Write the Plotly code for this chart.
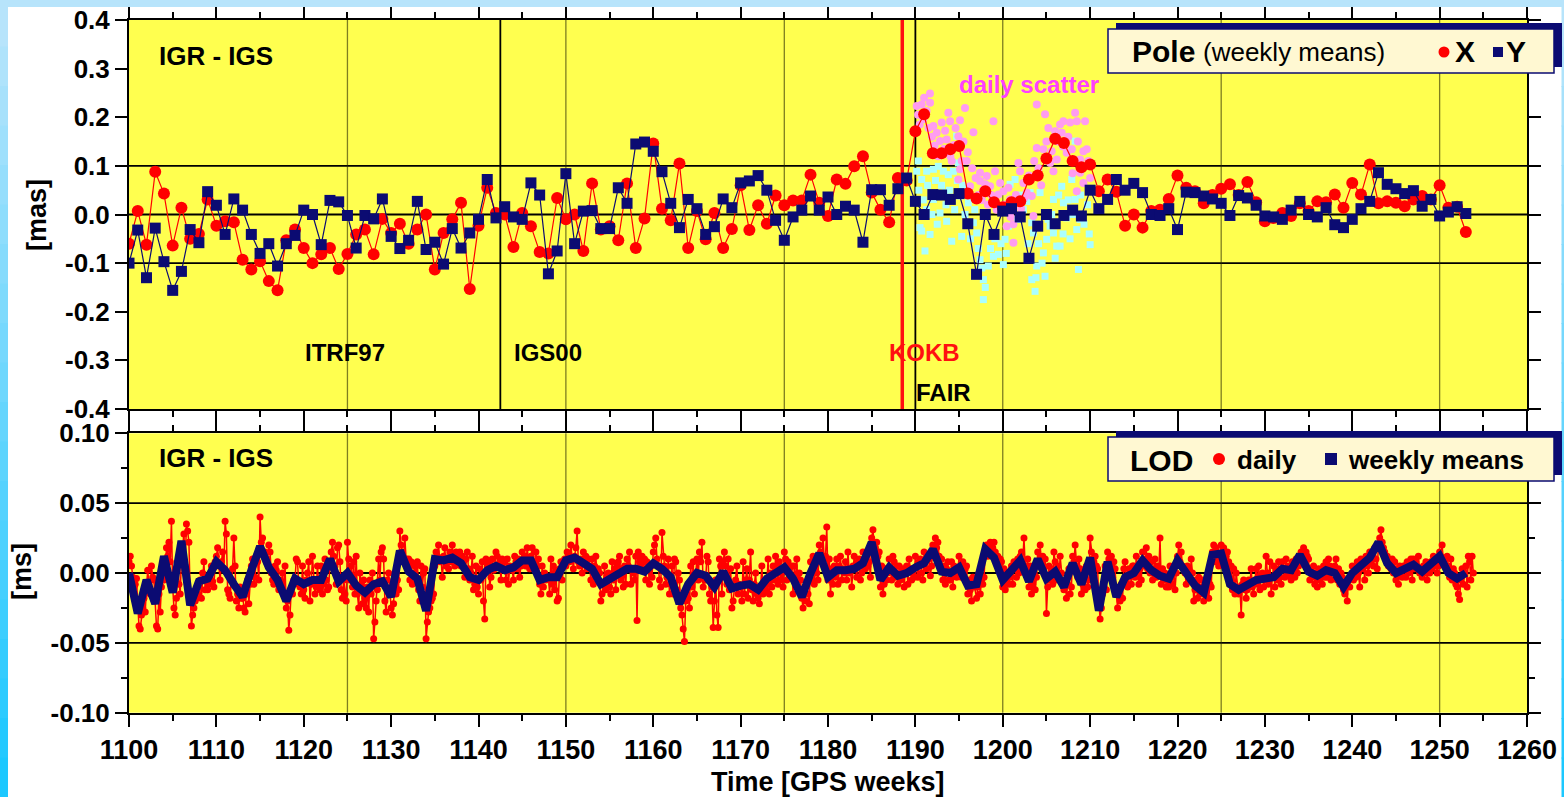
import plotly.graph_objects as go

W, H = 1564, 797

# ---------------- data ----------------
weeks = list(range(1100, 1254))

pole_x = [
    -0.060, 0.007, -0.062, 0.088, 0.043, -0.064, 0.014, -0.050, -0.040, 0.031,
    -0.023, -0.014, -0.016, -0.093, -0.113, -0.096, -0.137, -0.156, -0.053, -0.031,
    -0.069, -0.100, -0.082, -0.069, -0.112, -0.081, -0.041, -0.031, -0.082, -0.009,
    -0.038, -0.019, -0.060, -0.031, 0.000, -0.113, -0.038, -0.010, 0.024, -0.153,
    -0.023, 0.055, 0.003, 0.000, -0.067, 0.003, -0.024, -0.077, -0.080, 0.034,
    -0.010, 0.000, -0.075, 0.064, -0.031, -0.024, -0.053, 0.064, -0.069, -0.008,
    0.146, 0.012, -0.012, 0.105, -0.069, 0.007, -0.051, 0.003, -0.069, -0.030,
    0.060, -0.032, 0.019, -0.019, 0.039, 0.019, 0.029, 0.029, 0.082, 0.024,
    -0.003, 0.072, 0.063, 0.099, 0.120, 0.045, 0.010, -0.016, 0.075, 0.070,
    0.171, 0.206, 0.126, 0.126, 0.134, 0.141, 0.043, 0.033, 0.048, 0.025,
    0.015, 0.025, 0.027, 0.072, 0.080, 0.115, 0.156, 0.147, 0.110, 0.097,
    0.103, 0.048, 0.072, 0.047, -0.023, 0.000, -0.027, 0.007, 0.010, 0.032,
    0.080, 0.055, 0.048, 0.023, 0.040, 0.053, 0.062, 0.040, 0.067, 0.025,
    -0.014, -0.007, 0.003, -0.003, 0.023, 0.007, 0.027, 0.025, 0.041, 0.014,
    0.065, 0.041, 0.103, 0.023, 0.027, 0.024, 0.017, 0.031, 0.038, 0.031,
    0.060, 0.014, 0.016, -0.036,
]

pole_y = [
    -0.100, -0.032, -0.130, -0.028, -0.097, -0.156, -0.117, -0.031, -0.058, 0.047,
    0.019, -0.041, 0.032, 0.009, -0.041, -0.080, -0.060, -0.106, -0.060, -0.043,
    0.009, 0.000, -0.062, 0.029, 0.026, -0.002, -0.069, -0.002, -0.009, 0.032,
    -0.045, -0.070, -0.053, 0.027, -0.072, -0.057, -0.102, -0.029, -0.069, -0.038,
    -0.010, 0.072, -0.007, 0.016, -0.005, -0.010, 0.065, 0.040, -0.122, -0.075,
    0.084, -0.060, 0.007, 0.008, -0.029, -0.029, 0.055, 0.023, 0.145, 0.149,
    0.130, 0.088, 0.023, -0.027, 0.031, 0.012, -0.041, -0.025, 0.032, 0.014,
    0.065, 0.069, 0.080, 0.050, -0.012, -0.053, -0.005, 0.009, 0.038, 0.009,
    0.036, 0.000, 0.017, 0.009, -0.057, 0.051, 0.051, 0.019, 0.053, 0.075,
    0.027, 0.000, 0.041, 0.040, 0.031, 0.043, -0.019, -0.123, 0.000, -0.041,
    0.007, 0.012, -0.005, -0.090, -0.024, 0.000, -0.019, -0.002, 0.009, -0.003,
    0.050, 0.012, 0.031, 0.072, 0.050, 0.064, 0.045, 0.000, -0.002, 0.012,
    -0.031, 0.046, 0.045, 0.038, 0.032, 0.023, -0.002, 0.039, 0.034, 0.019,
    -0.003, -0.005, -0.010, 0.009, 0.027, 0.000, -0.005, 0.014, -0.021, -0.027,
    -0.010, 0.012, 0.027, 0.086, 0.062, 0.053, 0.043, 0.049, 0.017, 0.031,
    -0.003, 0.005, 0.016, 0.002,
]

# daily scatter (pink = X, cyan = Y)
scatter_x_weeks = [
    1190.15, 1190.72, 1190.91, 1191.29, 1191.68, 1191.67, 1192.06, 1192.44, 1192.82, 1193.01,
    1193.58, 1193.77, 1193.97, 1194.16, 1194.92, 1194.92, 1195.11, 1195.11, 1195.30, 1195.68,
    1195.87, 1196.26, 1196.64, 1197.40, 1197.40, 1197.78, 1198.16, 1198.55, 1198.93, 1199.12,
    1199.50, 1200.07, 1200.45, 1200.64, 1200.84, 1201.22, 1201.22, 1201.79, 1201.98, 1202.36,
    1202.74, 1203.32, 1203.51, 1203.89, 1203.89, 1204.65, 1204.84, 1205.22, 1205.42, 1205.80,
    1205.99, 1206.18, 1206.56, 1206.75, 1206.94, 1207.32, 1207.71, 1207.90, 1208.09, 1208.28,
    1208.47, 1208.47, 1208.85, 1208.85, 1209.23, 1209.23, 1209.42, 1209.61,
    1190.30, 1190.50, 1191.00, 1191.50, 1191.90, 1192.20, 1192.60, 1193.30, 1193.40, 1194.00,
    1194.40, 1194.60, 1195.50, 1196.00, 1196.50, 1196.90, 1197.20, 1197.60, 1198.00, 1198.30,
    1198.70, 1199.30, 1199.70, 1200.20, 1200.90, 1201.50, 1202.10, 1202.50, 1203.00, 1203.60,
    1204.10, 1204.40, 1205.00, 1205.60, 1206.30, 1206.90, 1207.50, 1208.00, 1208.60, 1209.00,
    1209.80, 1210.00,
]
scatter_x_vals = [
    0.223, 0.226, 0.196, 0.213, 0.230, 0.249, 0.182, 0.168, 0.151, 0.189,
    0.154, 0.209, 0.192, 0.110, 0.161, 0.072, 0.194, 0.093, 0.110, 0.219,
    0.110, 0.058, 0.169, 0.086, 0.069, 0.051, 0.079, 0.058, 0.192, 0.089,
    0.041, 0.048, -0.024, 0.055, 0.031, -0.020, -0.058, 0.106, 0.089, 0.065,
    0.045, 0.038, -0.003, 0.226, 0.137, 0.134, 0.206, 0.178, 0.106, 0.089,
    0.171, 0.113, 0.185, 0.168, 0.192, 0.127, 0.189, 0.134, 0.113, 0.209,
    0.192, 0.048, 0.113, 0.086, 0.130, 0.065, 0.192, 0.134,
    0.205, 0.185, 0.240, 0.178, 0.160, 0.142, 0.120, 0.135, 0.172, 0.120,
    0.143, 0.178, 0.150, 0.128, 0.095, 0.075, 0.040, 0.030, 0.062, 0.020,
    0.040, 0.010, 0.065, 0.020, -0.005, 0.040, 0.012, 0.035, 0.080, 0.110,
    0.095, 0.060, 0.150, 0.130, 0.150, 0.140, 0.160, 0.085, 0.150, 0.100,
    0.110, 0.075,
]
scatter_y_weeks = [
    1190.15, 1190.34, 1190.53, 1190.72, 1190.72, 1191.10, 1191.29, 1191.29, 1191.68, 1192.06,
    1192.06, 1192.63, 1192.82, 1193.20, 1193.39, 1193.58, 1193.77, 1194.16, 1194.35, 1194.73,
    1194.92, 1195.11, 1195.30, 1195.68, 1196.06, 1196.64, 1197.02, 1197.40, 1197.78, 1197.78,
    1198.35, 1198.93, 1199.50, 1200.07, 1200.26, 1200.64, 1200.84, 1201.41, 1202.36, 1202.74,
    1203.13, 1203.32, 1203.32, 1203.51, 1203.70, 1203.89, 1204.27, 1204.65, 1204.84, 1205.03,
    1205.42, 1205.80, 1205.80, 1206.18, 1206.56, 1206.75, 1206.94, 1207.32, 1207.90, 1208.28,
    1208.28, 1208.47, 1208.66, 1208.85, 1210.00,
    1190.40, 1190.90, 1191.40, 1191.90, 1192.30, 1192.50, 1193.00, 1193.50, 1193.90, 1194.50,
    1194.80, 1195.40, 1195.90, 1196.30, 1196.80, 1197.20, 1197.60, 1198.00, 1198.60, 1199.10,
    1199.80, 1200.40, 1201.00, 1201.70, 1202.00, 1202.90, 1203.20, 1203.80, 1204.10, 1204.50,
    1205.20, 1205.60, 1206.00, 1206.40, 1206.90, 1207.50, 1207.70, 1208.10, 1208.90, 1209.30,
    1209.70, 1209.90,
]
scatter_y_vals = [
    0.089, 0.110, -0.027, 0.072, -0.034, -0.075, 0.089, 0.010, -0.041, 0.093,
    0.031, 0.099, 0.003, 0.089, 0.045, -0.014, 0.082, -0.055, 0.089, 0.161,
    0.106, 0.038, -0.045, 0.000, 0.024, -0.017, -0.038, -0.093, -0.134, -0.175,
    -0.106, -0.086, -0.082, -0.103, -0.051, -0.024, 0.062, 0.072, 0.010, 0.027,
    0.045, -0.017, -0.134, -0.038, -0.158, -0.106, 0.045, -0.079, -0.127, -0.051,
    -0.024, -0.038, 0.031, -0.065, -0.065, 0.058, 0.024, -0.007, 0.072, 0.151,
    0.031, -0.031, -0.113, -0.010, -0.062,
    0.050, 0.030, 0.060, 0.000, 0.070, -0.020, 0.060, 0.020, 0.050, 0.010,
    0.070, 0.060, -0.020, -0.050, 0.010, -0.070, -0.110, -0.150, -0.070, -0.050,
    -0.060, -0.080, 0.030, -0.010, 0.040, -0.060, -0.090, -0.130, -0.060, -0.100,
    -0.010, 0.000, -0.090, 0.040, -0.040, 0.030, -0.050, 0.000, 0.040, -0.020,
    0.020, -0.040,
]

# LOD weekly means, microseconds (1 us = 0.001 ms)
lod_weekly_us = [
    0, -29, -5, -22, 12, -14, 23, -23, -6, -4,
    8, 2, -8, -17, 2, 19, 4, -5, -20, -4,
    -8, -5, -5, 10, -6, 0, -9, -14, -8, -6,
    -17, 16, 1, -4, -27, 10, 9, 11, 7, -3,
    -5, 2, 5, 2, 4, 9, 9, -5, -3, -3,
    9, 11, 7, 3, -8, -4, 0, 3, 3, 1,
    7, 3, -3, -22, -8, 0, -2, -10, 1, -11,
    -9, -8, -12, -4, 0, 4, -4, -17, 0, 14,
    -3, 2, 2, 3, 7, 22, -5, 4, -2, 0,
    4, 7, 17, 1, 0, 4, -9, -8, 17, 11,
    -5, 2, 9, -6, 10, -4, 1, -10, 7, -8,
    11, -27, 8, -17, -3, 0, 9, 2, -2, -4,
    9, 0, -9, -14, 13, 14, -8, -12, -9, -5,
    -4, -3, 3, 2, 13, 1, -2, 2, 0, -10,
    0, 6, 11, 22, 7, 0, 3, 6, 1, 6,
    12, 0, -4, 0,
]

# LOD daily values, microseconds, one row of 7 days per GPS week
lod_daily_us = [
    [8, 12, 5, -3, -10, -8, -4], [-22, -38, -40, -30, -25, -18, -28], [-10, 2, -8, -15, 5, -3, -5],
    [-20, -38, -40, -15, -28, -10, -5], [-5, 0, 18, 12, 22, 8, 37], [-10, -25, -30, -18, 5, -8, -15],
    [10, 20, 28, 5, 35, 30, 22], [-15, -38, -30, -25, -20, -18, -15], [-10, -5, -18, 0, 8, -12, -5],
    [-12, -8, -3, 5, -6, -10, 8],
    [12, 18, 5, -5, 8, 15, 3], [37, 28, -12, -15, -18, -5, 3], [25, 5, -20, -15, -25, -10, -18],
    [-18, -25, -28, -15, -5, -22, -8], [5, 10, -8, -3, 12, 8, -5], [40, 22, 25, 12, 15, 8, 10],
    [20, 15, 0, -5, -8, 5, 2], [8, -12, -5, -10, 0, -15, 5], [-25, -20, -41, -30, -12, -15, -5],
    [-5, 10, 8, -8, -10, -15, 5],
    [-12, -18, -5, 0, 8, -20, -8], [12, -5, -15, -10, 5, -8, -12], [5, -15, -8, 10, -5, -12, -10],
    [8, 15, 22, 12, 5, -8, 18], [20, 8, -12, -18, -5, -15, -20], [22, 10, -5, 5, -10, 8, -15],
    [12, -15, -25, 0, -8, -22, -5], [-18, -25, -10, -28, -5, -15, 0], [-47, -35, -20, -12, 10, -5, 15],
    [18, 10, -20, -28, -5, 0, -12],
    [-25, -30, -22, -10, -15, -5, -12], [30, 20, 15, 8, 25, 10, 5], [10, -5, 8, -8, 0, 5, -3],
    [8, -12, -20, 5, -10, 0, 3], [-47, -35, -28, -25, -20, -18, -15], [5, 15, 12, 20, 8, 10, -3],
    [12, 18, 5, 10, 3, 15, 8], [20, 10, 5, 15, 8, 12, 15], [5, 12, 8, -3, 10, 15, 3],
    [-5, 0, 12, -12, -8, 5, -10],
    [-15, 3, -5, 8, -20, -33, 10], [5, 8, -10, -3, 10, 2, 5], [15, 12, 5, 8, -5, 10, 3],
    [8, -5, 10, -8, 5, 3, 2], [-5, 12, 8, 3, 10, -3, 5], [15, 8, 12, 5, 18, 10, 3],
    [12, 18, 3, 8, 15, 5, 10], [-8, -15, 5, -10, 0, -5, -3], [-3, -15, 10, -8, 5, -12, 2],
    [-20, -18, 3, 8, -5, 5, 10],
    [5, 15, 12, 8, 20, 10, 3], [12, 18, 30, 8, 5, 10, 0], [15, 8, 12, 3, 10, 5, -5],
    [10, -8, 5, 12, -3, 3, 0], [-20, -15, -8, 5, -12, -3, 0], [-10, -15, 8, -5, 3, -12, 5],
    [8, 12, -5, 3, -10, 5, -8], [10, 5, 15, -8, 3, 0, -5], [12, -34, 15, 8, 5, 12, 8],
    [10, -5, 8, 3, -8, 5, -3],
    [15, 20, 25, 10, 5, -5, -10], [29, 12, 5, -8, -3, 10, -15], [-8, 5, -15, 10, 8, -12, 0],
    [-5, -25, -30, -40, -49, -20, -15], [-18, -25, 5, -10, 8, -15, 0], [10, -5, 15, 8, 22, -10, -5],
    [-5, 12, 8, -15, -20, -10, -39], [-20, -5, -30, -39, 10, 5, -15], [8, 15, 5, -8, 10, -12, 3],
    [-25, -20, -10, -5, 5, -15, -8],
    [-10, -20, 8, -15, -5, 3, -18], [-5, 15, -12, -20, -8, 0, -15], [-18, -22, -10, 5, -15, -8, -12],
    [-8, 10, -15, 0, -10, 5, -5], [12, 5, -8, 8, -5, 0, -10], [15, 10, -5, 8, 3, -3, 5],
    [-15, 5, -8, 10, -12, 0, -5], [-18, -25, -12, -20, -8, -15, -22], [8, -5, 12, -8, 3, 0, -5],
    [20, 15, 8, 25, 10, 12, 33],
    [-5, 10, -15, 3, -8, 5, -3], [10, -8, 5, 12, -5, 3, 0], [8, -5, 15, 0, 3, -10, 5],
    [12, 5, -3, 8, 10, -5, 0], [15, 10, 3, 12, 5, 8, -3], [25, 31, 20, 18, 22, 12, 15],
    [-10, 5, -15, -8, 3, -5, 0], [10, 3, -5, 12, 8, -3, 5], [-8, 5, -5, 0, 3, -10, 2],
    [5, -8, 10, 3, -5, 0, -3],
    [12, 5, -3, 8, 10, 0, -5], [15, 8, 3, 12, 10, -2, 5], [20, 15, 25, 18, 22, 12, 10],
    [10, -5, 5, -8, 3, 8, -5], [-5, 8, -10, 5, 3, -3, 0], [12, 5, -3, 8, 0, 3, 5],
    [-15, -5, -12, -20, -3, -8, -10], [-18, -10, 0, -15, -5, -8, -3], [15, 20, 12, 18, 22, 15, 18],
    [22, 15, 8, 12, 5, 10, 8],
    [-10, 3, -12, -5, 0, -8, -3], [5, -8, 8, 3, -3, 10, 0], [12, 15, 8, 25, 5, 3, 10],
    [-10, 5, -15, -8, 0, -12, -3], [15, 8, 20, 5, 12, 3, 10], [-29, -10, 5, -5, 3, -8, 15],
    [8, -5, 5, -3, 12, 0, -8], [-12, -5, -18, -8, 3, -15, -10], [12, 8, 20, 5, -3, 10, 3],
    [-15, -8, -3, -12, 5, -10, -5],
    [25, 15, 10, 8, 12, 5, 3], [-20, -33, -25, -15, -10, 5, -12], [15, 10, 5, 12, -3, 8, 3],
    [-15, -25, -10, -20, -8, -18, 3], [8, -5, -10, 3, 0, -8, 5], [5, -3, 12, 0, -8, 3, -5],
    [15, 10, 5, 18, 3, 12, 0], [8, -5, 3, 10, -3, 5, 0], [25, -8, 3, -5, 0, -10, -5],
    [-10, 5, -3, -8, 3, -12, 0],
    [12, 20, 8, 15, 5, 3, 0], [-8, 5, 3, -5, 10, 0, -20], [-12, -5, -18, -3, -10, -15, -5],
    [-20, -15, -12, -5, -18, -8, -10], [15, 20, 8, 18, 12, 5, 10], [20, 15, 18, 10, 12, 15, 8],
    [-8, 5, -12, 3, -15, 0, -10], [-15, -10, -30, -8, -5, -12, -18], [-12, -5, -8, 3, -10, -15, -5],
    [3, -8, 5, -12, -3, 0, -10],
    [-5, 12, 0, -8, 8, -15, -3], [5, -10, 3, -5, 8, -3, -8], [8, 3, -3, 10, 0, 5, -2],
    [-5, 8, 3, -3, 10, 0, 5], [12, 15, 10, 18, 8, 15, 12], [10, -5, 3, -3, 5, -8, 0],
    [-10, 3, -5, 0, -8, 5, -3], [8, -3, 10, 5, -5, 3, 0], [5, 10, -5, 3, -8, 0, -3],
    [-12, -15, -8, -20, -5, -10, -3],
    [5, -5, 3, -3, 8, 0, -10], [10, 3, 8, -5, 12, 5, 0], [15, 8, 12, 5, 18, 10, 3],
    [20, 25, 31, 22, 18, 15, 12], [12, 5, 8, 3, 10, 0, 8], [-5, 3, -8, 5, 0, -3, 5],
    [5, -3, 8, 0, 3, 10, -5], [10, 3, 8, 5, 12, 0, 3], [-3, 5, 0, 8, -5, 3, 0],
    [8, 3, 12, 5, 10, 0, 5],
    [15, 12, 20, 8, 10, 5, 12], [5, -3, 10, -5, 3, 0, -8], [-10, -15, -19, -5, 3, -8, 0],
    [5, -10, 12, 8, -5, 12, 0],
]

week_ticks = list(range(1100, 1261, 10))
pole_ticks = [0.4, 0.3, 0.2, 0.1, 0.0, -0.1, -0.2, -0.3, -0.4]
pole_ticktext = ["0.4", "0.3", "0.2", "0.1", "0.0", "-0.1", "-0.2", "-0.3", "-0.4"]
lod_ticks = [0.10, 0.05, 0.0, -0.05, -0.10]
lod_ticktext = ["0.10", "0.05", "0.00", "-0.05", "-0.10"]
pole_grid = [-0.1, 0.0, 0.1]
lod_grid = [-0.05, 0.0, 0.05]
week_grid = [1125, 1150, 1175, 1200, 1225, 1250]
frame_lines = [("IGS00", 1142.5, "black"), ("KOKB", 1188.5, "#ff1010"), ("FAIR", 1190.0, "black")]

# ---------------- derived ----------------
lod_daily_x = [w + d / 7 for w, row in zip(weeks, lod_daily_us) for d in range(len(row))]
lod_daily_y = [v / 1000 for row in lod_daily_us for v in row]
lod_weekly = [v / 1000 for v in lod_weekly_us]

RED = "#ff0000"
NAVY = "#0b0b72"
YELLOW = "#ffff4f"
FONT = "Liberation Sans"


def px(x):
    return x / W


def py(y):
    return 1 - y / H


fig = go.Figure()

fig.add_trace(go.Scatter(x=scatter_y_weeks, y=scatter_y_vals, mode="markers",
                         marker=dict(symbol="square", size=7, color="#aaffff"),
                         xaxis="x", yaxis="y", showlegend=False))
fig.add_trace(go.Scatter(x=scatter_x_weeks, y=scatter_x_vals, mode="markers",
                         marker=dict(symbol="circle", size=8, color="#ff9cf0"),
                         xaxis="x", yaxis="y", showlegend=False))
fig.add_trace(go.Scatter(x=weeks, y=pole_x, mode="lines+markers",
                         line=dict(color=RED, width=1.2),
                         marker=dict(symbol="circle", size=12, color=RED),
                         xaxis="x", yaxis="y", showlegend=False))
fig.add_trace(go.Scatter(x=weeks, y=pole_y, mode="lines+markers",
                         line=dict(color=NAVY, width=1.2),
                         marker=dict(symbol="square", size=11, color=NAVY),
                         xaxis="x", yaxis="y", showlegend=False))
fig.add_trace(go.Scatter(x=lod_daily_x, y=lod_daily_y, mode="lines+markers",
                         line=dict(color=RED, width=1.5),
                         marker=dict(symbol="circle", size=7, color=RED),
                         xaxis="x2", yaxis="y2", showlegend=False))
fig.add_trace(go.Scatter(x=weeks, y=lod_weekly, mode="lines",
                         line=dict(color=NAVY, width=8),
                         xaxis="x2", yaxis="y2", showlegend=False))

xdom = [px(129), px(1527)]
ytickfont = dict(family=FONT, size=26, color="black", weight="bold")
xtickfont = dict(family=FONT, size=27, color="black", weight="bold")
common_x = dict(domain=xdom, range=[1100, 1260], tickmode="array", tickvals=week_ticks,
                ticks="outside", ticklen=12, tickwidth=1.5, tickcolor="black",
                minor=dict(tickmode="linear", tick0=1100, dtick=5, ticks="outside",
                           ticklen=6, tickwidth=1.5, tickcolor="black"),
                showline=True, linewidth=2, linecolor="black", mirror="ticks",
                showgrid=False, zeroline=False, tickfont=xtickfont, automargin=False)
fig.update_layout(
    template="none",
    width=W, height=H, autosize=False,
    margin=dict(l=0, r=0, t=0, b=0, pad=0, autoexpand=False),
    paper_bgcolor="white", plot_bgcolor=YELLOW,
    showlegend=False,
    xaxis=dict(common_x, anchor="y", showticklabels=False),
    xaxis2=dict(common_x, anchor="y2", showticklabels=True),
    yaxis=dict(domain=[py(409), py(20)], range=[-0.4, 0.4], tickmode="array",
               tickvals=pole_ticks, ticktext=pole_ticktext,
               ticks="outside", ticklen=12, tickwidth=1.5, tickcolor="black",
               showline=True, linewidth=2, linecolor="black", mirror="ticks",
               showgrid=False, zeroline=False, tickfont=ytickfont, anchor="x",
               automargin=False),
    yaxis2=dict(domain=[py(712.7), py(433.3)], range=[-0.1, 0.1], tickmode="array",
                tickvals=lod_ticks, ticktext=lod_ticktext,
                ticks="outside", ticklen=12, tickwidth=1.5, tickcolor="black",
                minor=dict(tickmode="linear", tick0=0, dtick=0.025, ticks="outside",
                           ticklen=6, tickwidth=1.5, tickcolor="black"),
                showline=True, linewidth=2, linecolor="black", mirror="ticks",
                showgrid=False, zeroline=False, tickfont=ytickfont, anchor="x2",
                automargin=False),
)

shapes = []
# grid lines
for v in pole_grid:
    shapes.append(dict(type="line", xref="x domain", yref="y", x0=0, x1=1, y0=v, y1=v,
                       line=dict(color="black", width=1.8), layer="below"))
for v in lod_grid:
    shapes.append(dict(type="line", xref="x2 domain", yref="y2", x0=0, x1=1, y0=v, y1=v,
                       line=dict(color="black", width=1.8), layer="below"))
for w in week_grid:
    for xr, yr in (("x", "y domain"), ("x2", "y2 domain")):
        shapes.append(dict(type="line", xref=xr, yref=yr, x0=w, x1=w, y0=0, y1=1,
                           line=dict(color="rgba(40,40,0,0.6)", width=1.3), layer="below"))
for name, w, col in frame_lines:
    shapes.append(dict(type="line", xref="x", yref="y domain", x0=w, x1=w, y0=0, y1=1,
                       line=dict(color=col, width=3.5 if name == "KOKB" else 1.8), layer="below"))

# page border (gradient cyan)
shapes.append(dict(type="rect", xref="paper", yref="paper", x0=0, x1=1, y0=py(7), y1=1,
                   fillcolor="#b7e4fb", line=dict(width=0), layer="above"))
n = 20
top_c = (183, 228, 251)
bot_c = (28, 200, 255)
for i in range(n):
    t = i / (n - 1)
    c = tuple(int(round(top_c[k] + (bot_c[k] - top_c[k]) * t)) for k in range(3))
    col = "rgb(%d,%d,%d)" % c
    y0 = 7 + (H - 7) * i / n
    y1 = 7 + (H - 7) * (i + 1) / n + 1
    shapes.append(dict(type="rect", xref="paper", yref="paper", x0=0, x1=px(8),
                       y0=py(min(y1, H)), y1=py(y0), fillcolor=col, line=dict(width=0), layer="above"))
    shapes.append(dict(type="rect", xref="paper", yref="paper", x0=px(1561.5), x1=1,
                       y0=py(min(y1, H)), y1=py(y0), fillcolor=col, line=dict(width=0), layer="above"))

# legend boxes
for (y_top, y_bot) in ((29, 73), (437, 481)):
    shapes.append(dict(type="rect", xref="paper", yref="paper", x0=px(1116), x1=px(1562),
                       y0=py(y_bot - 6), y1=py(y_top - 6), fillcolor=NAVY,
                       line=dict(width=0), layer="above"))
    shapes.append(dict(type="rect", xref="paper", yref="paper", x0=px(1108), x1=px(1554),
                       y0=py(y_bot), y1=py(y_top), fillcolor="#fff8d2",
                       line=dict(color=NAVY, width=1.5), layer="above"))


def circle(cx, cy, r, col):
    return dict(type="circle", xref="paper", yref="paper", x0=px(cx - r), x1=px(cx + r),
                y0=py(cy + r), y1=py(cy - r), fillcolor=col, line=dict(width=0), layer="above")


def square(cx, cy, s, col):
    return dict(type="rect", xref="paper", yref="paper", x0=px(cx - s / 2), x1=px(cx + s / 2),
                y0=py(cy + s / 2), y1=py(cy - s / 2), fillcolor=col, line=dict(width=0), layer="above")


shapes += [circle(1444, 52, 5.5, RED), square(1498, 52, 10, NAVY),
           circle(1219, 459, 6, RED), square(1331, 459, 12, NAVY)]

fig.update_layout(shapes=shapes)


def ann(text, x, y, size, color="black", bold=True, xanchor="left", xref="paper", yref="paper", angle=0):
    return dict(text=text, x=x, y=y, xref=xref, yref=yref, xanchor=xanchor, yanchor="middle",
                showarrow=False, textangle=angle,
                font=dict(family=FONT, size=size, color=color, weight="bold" if bold else "normal"))


annotations = [
    ann("IGR - IGS", px(157), py(56), 26),
    ann("IGR - IGS", px(157), py(458), 26),
    ann("ITRF97", 1124.7, -0.284, 24, xanchor="center", xref="x", yref="y"),
    ann("IGS00", 1147.96, -0.284, 24, xanchor="center", xref="x", yref="y"),
    ann("KOKB", 1191.1, -0.284, 24, color="#ff1010", xanchor="center", xref="x", yref="y"),
    ann("FAIR", 1193.2, -0.366, 24, xanchor="center", xref="x", yref="y"),
    ann("daily scatter", 1203.06, 0.2675, 24, color="#ff40ff", xanchor="center", xref="x", yref="y"),
    ann("[mas]", px(37), py(215), 27, xanchor="center", angle=-90),
    ann("[ms]", px(22), py(572), 27, xanchor="center", angle=-90),
    ann("Time [GPS weeks]", px(828), py(782), 27, xanchor="center"),
    ann("Pole", px(1130), py(52), 30),
    ann("(weekly means)", px(1201), py(52), 26, bold=False),
    ann("X", px(1453), py(52), 30),
    ann("Y", px(1504), py(52), 30),
    ann("LOD", px(1128), py(460), 30),
    ann("daily", px(1235), py(460), 26),
    ann("weekly means", px(1346), py(460), 26),
]
fig.update_layout(annotations=annotations)

fig.write_html("out.html", config={"displayModeBar": False})
